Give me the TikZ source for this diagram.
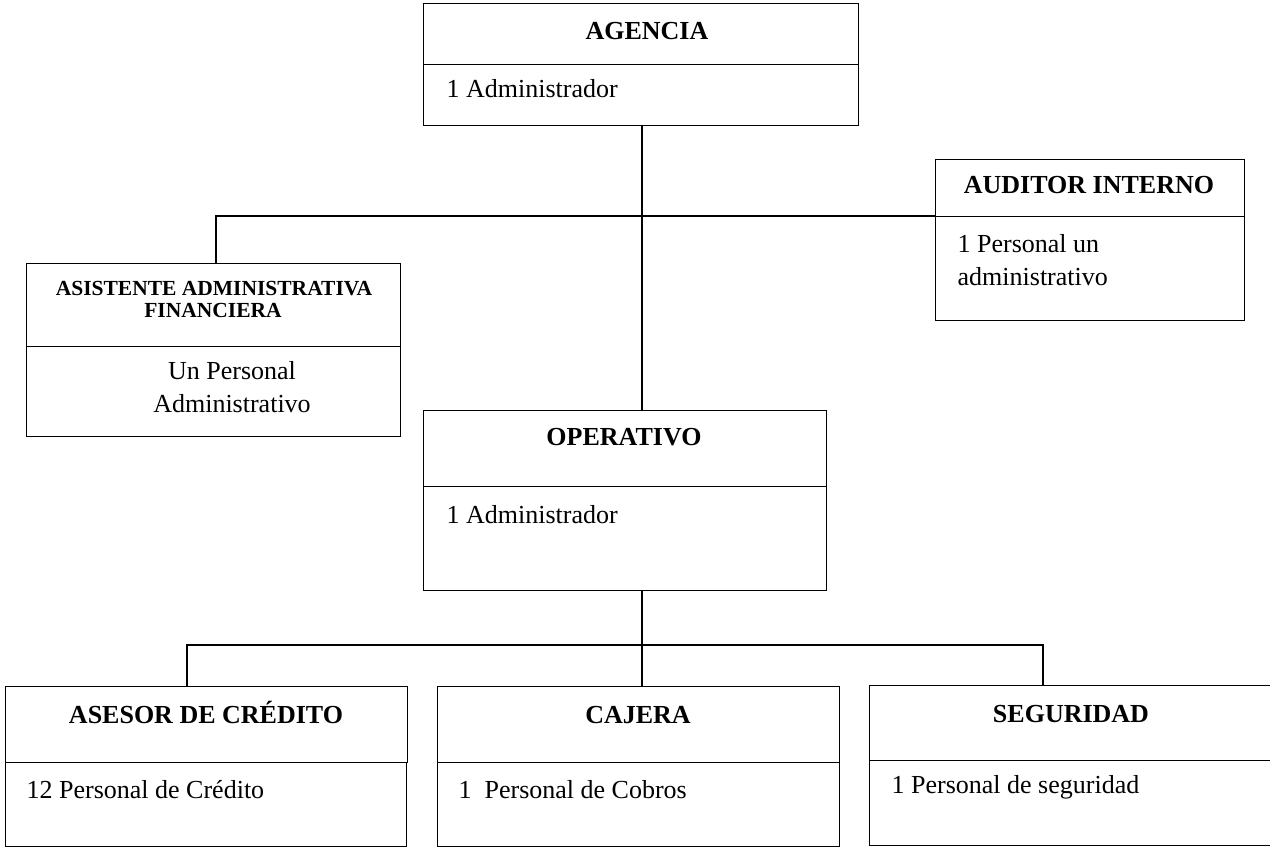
\documentclass[tikz,border=0pt]{standalone}
\usepackage{fontspec}
\setmainfont{Liberation Serif}
\begin{document}
\begin{tikzpicture}[x=1pt,y=-1pt,
  line width=1.3pt,
  cell/.style={draw=black,rectangle,inner sep=0pt,anchor=north west},
  txt/.style={inner sep=0pt,font=\fontsize{26}{33}\selectfont},
  ttl/.style={inner sep=0pt,anchor=base,font=\fontsize{26}{33}\selectfont\bfseries},
  ttlsmall/.style={inner sep=0pt,anchor=base,font=\fontsize{21.5}{22}\selectfont\bfseries}]
\useasboundingbox (0,0) rectangle (1270,847);

% AGENCIA
\node[cell,minimum width=435pt,minimum height=61pt] (agH) at (423,3) {};
\node[cell,minimum width=435pt,minimum height=61pt] (agB) at (423,64) {};
\node[ttl] (agT) at (647,39) {AGENCIA};
\node[txt,anchor=base west] (agL) at (446,97) {1 Administrador};

% AUDITOR INTERNO
\node[cell,minimum width=309pt,minimum height=57pt] (auH) at (935,159) {};
\node[cell,minimum width=309pt,minimum height=104pt] (auB) at (935,216) {};
\node[ttl] (auT) at (1089,193) {AUDITOR INTERNO};
\node[txt,anchor=base west] (auL1) at (957,252) {1 Personal un};
\node[txt,anchor=base west] (auL2) at (957,285) {administrativo};

% ASISTENTE ADMINISTRATIVA FINANCIERA
\node[cell,minimum width=374pt,minimum height=83pt] (asH) at (26,263) {};
\node[cell,minimum width=374pt,minimum height=90pt] (asB) at (26,346) {};
\node[ttlsmall] (asT1) at (214,295) {ASISTENTE ADMINISTRATIVA};
\node[ttlsmall] (asT2) at (213,317) {FINANCIERA};
\node[txt,anchor=base] (asL1) at (232,379) {Un Personal};
\node[txt,anchor=base] (asL2) at (232,412) {Administrativo};

% OPERATIVO
\node[cell,minimum width=403pt,minimum height=76pt] (opH) at (423,410) {};
\node[cell,minimum width=403pt,minimum height=104pt] (opB) at (423,486) {};
\node[ttl] (opT) at (624,445) {OPERATIVO};
\node[txt,anchor=base west] (opL) at (446,523) {1 Administrador};

% ASESOR DE CRÉDITO
\node[cell,minimum width=402pt,minimum height=76pt] (acH) at (5,686) {};
\node[cell,minimum width=401pt,minimum height=84pt] (acB) at (5,762) {};
\node[ttl] (acT) at (206,723) {ASESOR DE CRÉDITO};
\node[txt,anchor=base west] (acL) at (26,798) {12 Personal de Crédito};

% CAJERA
\node[cell,minimum width=402pt,minimum height=76pt] (caH) at (437,686) {};
\node[cell,minimum width=402pt,minimum height=84pt] (caB) at (437,762) {};
\node[ttl] (caT) at (638,723) {CAJERA};
\node[txt,anchor=base west] (caL) at (458,798) {1\ \ Personal de Cobros};

% SEGURIDAD
\node[cell,minimum width=404pt,minimum height=75pt] (seH) at (869,685) {};
\node[cell,minimum width=404pt,minimum height=85pt] (seB) at (869,760) {};
\node[ttl] (seT) at (1071,722) {SEGURIDAD};
\node[txt,anchor=base west] (seL) at (891,793) {1 Personal de seguridad};

% connector junctions
\coordinate (spine) at (642,216);
\coordinate (lt) at (216,216);
\coordinate (lb) at (187,645);
\coordinate (rb) at (1043,645);
\coordinate (mb) at (642,645);

% upper level
\draw (agB.south -| spine) -- (opH.north -| spine);
\draw (auB.north west) -- (lt) -- (lt |- asH.north);

% lower level
\draw (opB.south -| mb) -- (caH.north -| mb);
\draw (lb |- acH.north) -- (lb) -- (rb) -- (rb |- seH.north);
\end{tikzpicture}
\end{document}
